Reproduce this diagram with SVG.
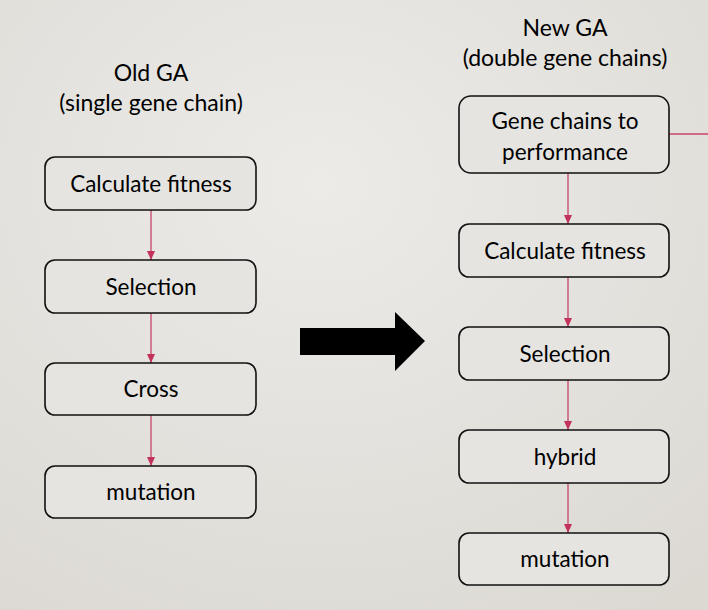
<svg xmlns="http://www.w3.org/2000/svg" width="708" height="610" viewBox="0 0 708 610">
<defs>
<radialGradient id="bg" cx="0.45" cy="0.3" r="0.85">
<stop offset="0" stop-color="#ecebe8"/>
<stop offset="1" stop-color="#dcd9d3"/>
</radialGradient>
<marker id="ah" markerWidth="9" markerHeight="8" refX="9" refY="4" orient="auto" markerUnits="userSpaceOnUse" viewBox="0 0 9 8">
<path d="M0,0 L9,4 L0,8 Z" fill="#c2325a"/>
</marker>
<style>
.box{fill:#e6e4e0;stroke:#111;stroke-width:1.6}
.t{font-family:Lato,"Open Sans","Liberation Sans",sans-serif;font-size:22.5px;fill:#000;text-anchor:middle}
.h{font-family:Lato,"Open Sans","Liberation Sans",sans-serif;font-size:23px;fill:#000;text-anchor:middle}
.c{stroke:#c8456a;stroke-width:1.3;fill:none}
</style>
</defs>
<rect width="708" height="610" fill="url(#bg)"/>
<text class="h" x="151" y="81">Old GA</text>
<text class="h" x="151" y="111">(single gene chain)</text>
<text class="h" x="565" y="36">New GA</text>
<text class="h" x="565" y="66">(double gene chains)</text>
<g id="connectors">
<line class="c" x1="151" y1="210" x2="151" y2="260" marker-end="url(#ah)"/>
<line class="c" x1="151" y1="313" x2="151" y2="363" marker-end="url(#ah)"/>
<line class="c" x1="151" y1="415" x2="151" y2="466" marker-end="url(#ah)"/>
<line class="c" x1="568" y1="173" x2="568" y2="224" marker-end="url(#ah)"/>
<line class="c" x1="568" y1="277" x2="568" y2="327" marker-end="url(#ah)"/>
<line class="c" x1="568" y1="380" x2="568" y2="430" marker-end="url(#ah)"/>
<line class="c" x1="568" y1="483" x2="568" y2="533" marker-end="url(#ah)"/>
<line class="c" x1="669" y1="134" x2="708" y2="134"/>
</g>
<g id="old1"><rect class="box" x="45" y="157" width="211" height="53" rx="10"/><text class="t" x="151" y="192">Calculate fitness</text></g>
<g id="old2"><rect class="box" x="45" y="260" width="211" height="53" rx="10"/><text class="t" x="151" y="295">Selection</text></g>
<g id="old3"><rect class="box" x="45" y="363" width="211" height="52" rx="10"/><text class="t" x="151" y="397">Cross</text></g>
<g id="old4"><rect class="box" x="45" y="466" width="211" height="52" rx="10"/><text class="t" x="151" y="500">mutation</text></g>
<g id="new1"><rect class="box" x="459" y="96" width="210" height="77" rx="12"/><text class="t" x="565" y="129">Gene chains to</text><text class="t" x="565" y="160">performance</text></g>
<g id="new2"><rect class="box" x="459" y="224" width="210" height="53" rx="10"/><text class="t" x="565" y="259">Calculate fitness</text></g>
<g id="new3"><rect class="box" x="459" y="327" width="210" height="53" rx="10"/><text class="t" x="565" y="362">Selection</text></g>
<g id="new4"><rect class="box" x="459" y="430" width="210" height="53" rx="10"/><text class="t" x="565" y="465">hybrid</text></g>
<g id="new5"><rect class="box" x="459" y="533" width="210" height="52" rx="10"/><text class="t" x="565" y="567">mutation</text></g>
<g id="bigarrow"><path d="M300,328 L395,328 L395,312 L425,341 L395,371 L395,355 L300,355 Z" fill="#000"/></g>
</svg>
